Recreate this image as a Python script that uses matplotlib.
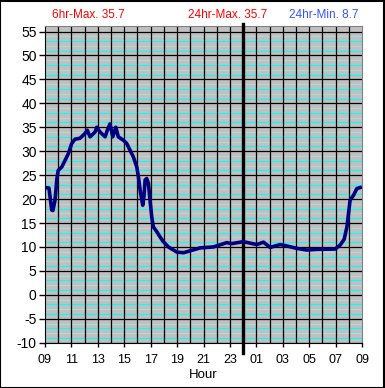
import numpy as np
import matplotlib
matplotlib.use("Agg")
import matplotlib.pyplot as plt

# ── Data (hours elapsed since 09:00, temperature) ─────────────────────────────
hours = [0.0, 0.3, 0.51, 0.6, 0.76, 0.83, 0.89, 1.0, 1.27, 1.52, 1.77, 2.02,
         2.27, 2.65, 3.03, 3.2, 3.41, 3.79, 3.92, 4.17, 4.55, 4.72, 4.92, 5.13,
         5.36, 5.55, 5.93, 6.19, 6.44, 6.69, 6.95, 7.07, 7.2, 7.33, 7.4, 7.5,
         7.58, 7.7, 7.83, 7.95, 8.08, 8.2, 8.46, 8.71, 8.96, 9.34, 10.0, 10.5,
         11.0, 11.74, 12.75, 13.76, 14.14, 15.02, 16.04, 16.54, 17.05, 17.8,
         18.31, 19.07, 19.83, 20.58, 21.97, 22.35, 22.65, 22.86, 22.98, 23.1,
         23.36, 23.61, 23.86]
temps = [22.4, 22.3, 17.7, 17.6, 19.8, 21.9, 24.0, 26.0, 26.7, 28.1, 29.5, 31.6,
         32.5, 32.7, 33.7, 34.4, 33.0, 34.0, 35.0, 34.0, 33.0, 34.4, 35.7, 33.0,
         35.0, 33.0, 32.3, 31.6, 30.2, 28.8, 26.7, 24.7, 21.9, 19.8, 18.7, 20.8,
         24.0, 24.3, 23.3, 19.8, 16.3, 14.2, 13.2, 12.1, 11.1, 10.0, 8.9, 8.8,
         9.2, 9.8, 10.0, 10.9, 10.7, 11.1, 10.5, 11.0, 9.9, 10.5, 10.2, 9.7,
         9.35, 9.5, 9.56, 10.4, 11.6, 14.2, 17.0, 19.8, 20.8, 22.2, 22.4]

tick_pos = list(range(0, 25, 2))
tick_labels = ["09", "11", "13", "15", "17", "19", "21", "23",
               "01", "03", "05", "07", "09"]

header = [("6hr-Max. 35.7", "#ff0000"),
          ("24hr-Max. 35.7", "#ff0000"),
          ("24hr-Min. 8.7", "#3355ff")]

plt.rcParams["font.family"] = ["Liberation Sans", "DejaVu Sans"]

fig = plt.figure(figsize=(3.85, 3.88), dpi=100)
fig.patch.set_facecolor("white")
ax = fig.add_axes([45 / 385, 45.3 / 388, 317 / 385, 316.7 / 388])
ax.set_facecolor("#c0c0c0")

YMIN, YMAX = -10, 56.15
ax.set_xlim(0, 24)
ax.set_ylim(YMIN, YMAX)

# ── Grid ──────────────────────────────────────────────────────────────────────
for v in range(-10, 56):
    if v % 5 == 0:
        continue
    if v % 5 in (1, 3):
        ax.axhline(v, color="#00ffff", linewidth=0.8, zorder=1)
    else:
        ax.axhline(v, color="#a6e2e2", linewidth=0.6, zorder=1)
for v in range(-10, 56, 5):
    ax.axhline(v, color="black", linewidth=0.9, zorder=2)
for h in range(1, 24):
    ax.axvline(h, color="black", linewidth=0.9, zorder=2)

# midnight marker, sticks out of the plot area
ax.plot([15, 15], [YMIN - 2.2, YMAX + 0.4], color="black", linewidth=2.4,
        clip_on=False, zorder=4)

# ── Series ────────────────────────────────────────────────────────────────────
ax.plot(hours, temps, color="#000080", linewidth=2.6, zorder=5)

# ── Axes styling ──────────────────────────────────────────────────────────────
ax.set_yticks(range(-10, 56, 5))
ax.set_yticklabels([str(v) for v in range(-10, 56, 5)], fontsize=10)
ax.set_xticks(tick_pos)
ax.set_xticklabels(tick_labels, fontsize=9)
ax.tick_params(axis="y", length=4, width=1, pad=2)
ax.tick_params(axis="x", length=3, width=1, pad=5)
ax.set_xlabel("Hour", fontsize=9.5, labelpad=2)
for s in ("left", "bottom"):
    ax.spines[s].set_color("black")
for s in ("top", "right"):
    ax.spines[s].set_color("#808080")

# ── Header texts ──────────────────────────────────────────────────────────────
for (txt, col), xp in zip(header, [88, 228, 324]):
    fig.text(xp / 385, 1 - 15 / 388, txt, color=col, fontsize=8.5,
             ha="center", va="center")

# figure border
fig.add_artist(plt.Rectangle((0.001, 0.001), 0.997, 0.997, transform=fig.transFigure,
                             fill=False, edgecolor="black", linewidth=1.5))

fig.savefig("out.png", dpi=100)
